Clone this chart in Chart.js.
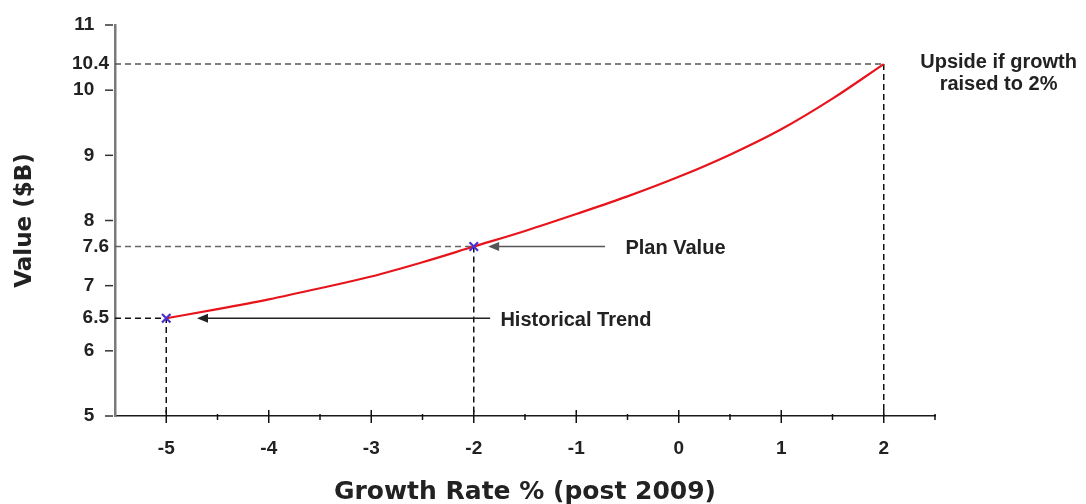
<!DOCTYPE html>
<html>
<head>
<meta charset="utf-8">
<script src="https://cdn.jsdelivr.net/npm/chart.js@4.4.1/dist/chart.umd.min.js"></script>
<style>
  html, body { margin: 0; padding: 0; background: #fff; }
  canvas { display: block; }
</style>
</head>
<body>
<canvas id="chart" width="1086" height="504"></canvas>
<script>
// curve
const growthRates = [-5, -4.5, -4, -3.5, -3, -2.5, -2, -1.5, -1, -0.5, 0, 0.5, 1, 1.5, 2];
const values = [6.5, 6.64, 6.79, 6.96, 7.14, 7.36, 7.6, 7.84, 8.1, 8.37, 8.67, 9.01, 9.4, 9.87, 10.4];

// blue x markers
const markerRates = [-5, -2];
const markerValues = [6.5, 7.6];

// dashed guide lines go to these points
const guideRates = [-5, -2, 2];
const guideValues = [6.5, 7.6, 10.4];

const xTickValues = [-5, -4, -3, -2, -1, 0, 1, 2];
const xMinorTicks = [-4.5, -3.5, -2.5, -1.5, -0.5, 0.5, 1.5, 2.5];
const yTickValues = [5, 6, 6.5, 7, 7.6, 8, 9, 10, 10.4, 11];

const X_MIN = -5.5, X_MAX = 2.5, Y_MIN = 5, Y_MAX = 11;

const labelFont = '"Liberation Sans", Arial, sans-serif';
const titleFont = '"DejaVu Sans", Verdana, sans-serif';
const textColor = '#222';

const guideColors = ['#111', '#666', '#555'];
const guideSets = guideRates.map((r, i) => ({
  data: [{x: X_MIN, y: guideValues[i]}, {x: r, y: guideValues[i]}, {x: r, y: Y_MIN}],
  borderColor: '#111',
  segment: { borderColor: c => c.p0DataIndex === 0 ? guideColors[i] : '#111' },
  borderWidth: 1.5,
  borderDash: [6, 4],
  pointRadius: 0,
  tension: 0,
  order: 3
}));

const annotations = {
  arrows: [
    { from: [-1.84, 6.5], to: [-4.70, 6.5], color: '#222' },
    { from: [-0.72, 7.6], to: [-1.86, 7.6], color: '#555' }
  ],
  texts: [
    { text: 'Historical Trend', at: [-1.74, 6.5], align: 'left' },
    { text: 'Plan Value', at: [-0.52, 7.6], align: 'left' },
    { text: 'Upside if growth', at: [3.12, 10.46], align: 'center' },
    { text: 'raised to 2%', at: [3.12, 10.12], align: 'center' }
  ]
};

const decorations = {
  id: 'decorations',
  afterDraw(chart) {
    const { ctx, scales: { x, y } } = chart;
    ctx.save();
    const seg = (x1, y1, x2, y2) => { ctx.beginPath(); ctx.moveTo(x1, y1); ctx.lineTo(x2, y2); ctx.stroke(); };

    // y tick marks on whole numbers only
    ctx.strokeStyle = '#333';
    ctx.lineWidth = 1.5;
    yTickValues.filter(v => Number.isInteger(v)).forEach(v => {
      const py = y.getPixelForValue(v);
      seg(x.left - 10, py, x.left - 2, py);
    });

    // x ticks cross the axis
    const base = y.getPixelForValue(Y_MIN);
    ctx.strokeStyle = '#111';
    xTickValues.forEach(v => {
      const px = x.getPixelForValue(v);
      seg(px, base - 6, px, base + 7);
    });
    xMinorTicks.forEach(v => {
      const px = x.getPixelForValue(v);
      seg(px, base - 2, px, base + 4);
    });

    // arrows
    annotations.arrows.forEach(a => {
      const x1 = x.getPixelForValue(a.from[0]), y1 = y.getPixelForValue(a.from[1]);
      const x2 = x.getPixelForValue(a.to[0]), y2 = y.getPixelForValue(a.to[1]);
      ctx.strokeStyle = a.color;
      ctx.fillStyle = a.color;
      ctx.lineWidth = 1.5;
      seg(x1, y1, x2 + 8, y2);
      ctx.beginPath();
      ctx.moveTo(x2, y2);
      ctx.lineTo(x2 + 11, y2 - 4.5);
      ctx.lineTo(x2 + 11, y2 + 4.5);
      ctx.closePath();
      ctx.fill();
    });

    // labels
    ctx.fillStyle = textColor;
    ctx.font = 'bold 20px ' + labelFont;
    ctx.textBaseline = 'middle';
    annotations.texts.forEach(t => {
      ctx.textAlign = t.align;
      ctx.fillText(t.text, x.getPixelForValue(t.at[0]), y.getPixelForValue(t.at[1]) + 2);
    });
    ctx.restore();
  }
};

new Chart(document.getElementById('chart'), {
  type: 'line',
  data: {
    datasets: [
      {
        data: growthRates.map((r, i) => ({ x: r, y: values[i] })),
        borderColor: '#e8141c',
        borderWidth: 2.2,
        pointRadius: 0,
        tension: 0.4,
        cubicInterpolationMode: 'monotone',
        order: 2
      },
      {
        data: markerRates.map((r, i) => ({ x: r, y: markerValues[i] })),
        showLine: false,
        pointStyle: 'crossRot',
        pointRadius: 6,
        pointBorderWidth: 2.2,
        pointBorderColor: '#4a2fd0',
        order: 1
      },
      ...guideSets
    ]
  },
  options: {
    responsive: false,
    animation: false,
    layout: { padding: { left: 0, top: 25, right: 151, bottom: 0 } },
    plugins: { legend: { display: false }, tooltip: { enabled: false } },
    scales: {
      x: {
        type: 'linear',
        min: X_MIN,
        max: X_MAX,
        afterBuildTicks: s => { s.ticks = xTickValues.map(v => ({ value: v })); },
        afterFit: s => { s.height = 88; },
        grid: { drawOnChartArea: false, drawTicks: false },
        border: { color: '#1a1a1a', width: 1.5 },
        ticks: {
          padding: 21,
          color: textColor,
          font: { family: labelFont, size: 19, weight: 'bold' }
        },
        title: {
          display: true,
          text: 'Growth Rate % (post 2009)',
          color: textColor,
          font: { family: titleFont, size: 25, weight: 'bold' },
          padding: { top: 0, bottom: -3 }
        }
      },
      y: {
        min: Y_MIN,
        max: Y_MAX,
        afterBuildTicks: s => { s.ticks = yTickValues.map(v => ({ value: v })); },
        afterFit: s => { s.width = 115; },
        grid: { drawOnChartArea: false, drawTicks: false },
        border: { color: '#7a7a7a', width: 2.5 },
        ticks: {
          padding: 6,
          color: textColor,
          font: { family: labelFont, size: 19, weight: 'bold' },
          callback: v => Number.isInteger(v) ? v + '\u2002 ' : String(v)
        },
        title: {
          display: true,
          text: 'Value ($B)',
          color: textColor,
          font: { family: titleFont, size: 23, weight: 'bold' },
          padding: { top: 11, bottom: 0 }
        }
      }
    }
  },
  plugins: [decorations]
});
</script>
</body>
</html>
